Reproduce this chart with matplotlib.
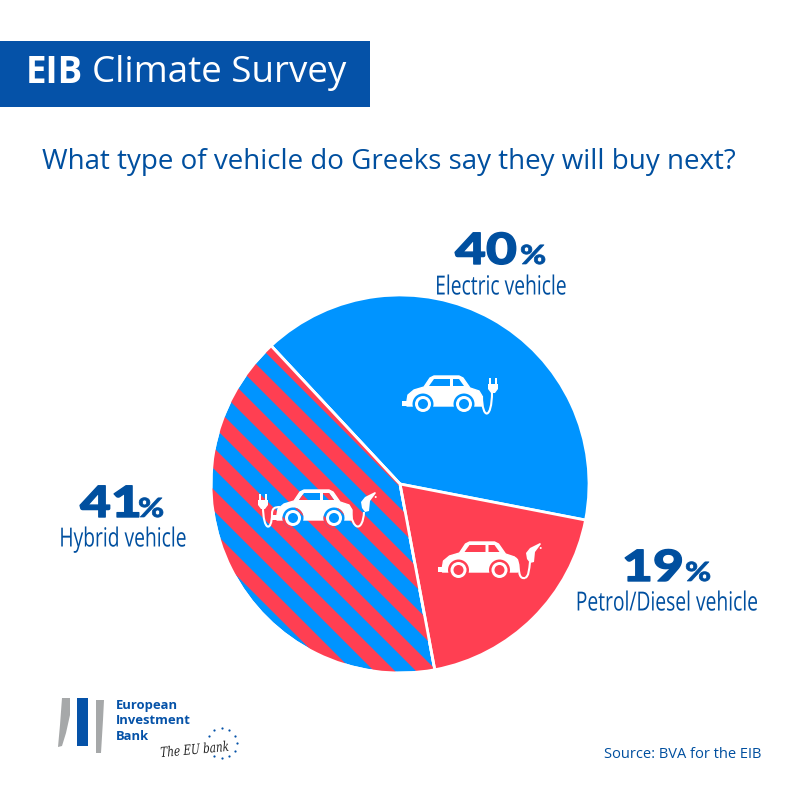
import matplotlib
matplotlib.use("Agg")
import matplotlib.pyplot as plt
import numpy as np
import matplotlib.patheffects as pe
from matplotlib.patches import Circle, PathPatch, Polygon, Rectangle, Wedge
from matplotlib.path import Path
from matplotlib.transforms import Affine2D

BLUE = "#0094ff"
RED = "#ff3f52"
DARK = "#004f9f"
HEADER = "#0552a8"
GREY = "#a6a8a9"

labels = ["Electric vehicle", "Hybrid vehicle", "Petrol/Diesel vehicle"]
shares = [40, 41, 19]
title = "What type of vehicle do Greeks say they will buy next?"
source = "Source: BVA for the EIB"
logo_lines = ["European", "Investment", "Bank"]

plt.rcParams["font.family"] = ["Open Sans", "DejaVu Sans"]

fig = plt.figure(figsize=(8, 8), dpi=100)
ax = fig.add_axes([0, 0, 1, 1])


class ScaleX(pe.AbstractPathEffect):
    # the fonts here have no condensed/extra wide cut, so stretch the glyphs instead
    def __init__(self, sx, x0, stroke=0.0):
        super().__init__()
        self.sx, self.x0, self.stroke = sx, x0, stroke

    def draw_path(self, renderer, gc, tpath, affine, rgbFace=None):
        gc0 = renderer.new_gc()
        gc0.copy_properties(gc)
        if self.stroke:
            gc0.set_linewidth(self.stroke)
            gc0.set_foreground(rgbFace)
        new = affine + Affine2D().translate(-self.x0, 0).scale(self.sx, 1).translate(self.x0, 0)
        renderer.draw_path(gc0, tpath, new, rgbFace)
        gc0.restore()


def py(y):
    # picture coordinates have y going down
    return 800 - y


def stripe_fill(clip, zorder):
    # blue/red diagonal stripes clipped to a patch
    period = 42
    slope = 1.0
    for k in range(-12, 12):
        y0 = 513 + k * period + (150 - 405) * slope
        y1 = 513 + k * period + (520 - 405) * slope
        band = Polygon([(150, py(y0)), (520, py(y1)), (520, py(y1 + period / 2)), (150, py(y0 + period / 2))],
                       closed=True, fc=RED, ec="none", zorder=zorder)
        ax.add_patch(band)
        band.set_clip_path(clip)


def fill_patch(patch, color, zorder):
    if color is None:
        patch.set_facecolor(BLUE)
        patch.set_zorder(zorder)
        ax.add_patch(patch)
        stripe_fill(patch, zorder)
    else:
        patch.set_facecolor(color)
        patch.set_zorder(zorder)
        ax.add_patch(patch)


def draw_car(x, y, color):
    body = [(-35, 8), (-34, 2), (-28, -3), (-18, -6), (-12, -15), (-8, -17), (17, -17), (21, -15),
            (28, -5), (37, -2), (40, 3), (40, 13), (-35, 13)]
    ax.add_patch(Polygon([(x + a, py(y + b)) for a, b in body], closed=True, fc="white", ec="white",
                         lw=1, joinstyle="round", zorder=6))
    ax.add_patch(Rectangle((x - 40, py(y + 13)), 12, 5, fc="white", ec="none", zorder=6))
    front = [(-13, -7), (-8, -14), (8, -14), (8, -7)]
    rear = [(11, -14), (17, -14), (22, -7), (11, -7)]
    for w in (front, rear):
        fill_patch(Polygon([(x + a, py(y + b)) for a, b in w], closed=True, ec="none"), color, 7)
    for dx in (-19, 22):
        fill_patch(Circle((x + dx, py(y + 11)), 10.5, ec="none"), color, 7)
        ax.add_patch(Circle((x + dx, py(y + 11)), 8, fc="white", ec="none", zorder=9))
        fill_patch(Circle((x + dx, py(y + 11)), 5, ec="none"), color, 10)


def draw_cord(points, lw=1.5):
    verts = [(a, py(b)) for a, b in points]
    codes = [Path.MOVETO] + [Path.CURVE4] * (len(verts) - 1)
    ax.add_patch(PathPatch(Path(verts, codes), fc="none", ec="white", lw=lw, zorder=6))


def draw_plug(x, y):
    # x, y = top of the prongs
    ax.add_patch(Rectangle((x - 4, py(y + 7)), 2, 7, fc="white", ec="none", zorder=6))
    ax.add_patch(Rectangle((x + 2, py(y + 7)), 2, 7, fc="white", ec="none", zorder=6))
    body = [(-5, 6), (5, 6), (5, 11), (2, 15), (-2, 15), (-5, 11)]
    ax.add_patch(Polygon([(x + a, py(y + b)) for a, b in body], closed=True, fc="white", ec="none", zorder=6))


def draw_nozzle(x, y):
    pts = [(0, 0), (10, -5), (11, -4), (5, 4), (4, 14), (0, 15), (-3, 11), (-4, 5)]
    ax.add_patch(Polygon([(x + a, py(y + b)) for a, b in pts], closed=True, fc="white", ec="none", zorder=6))
    ax.add_patch(Circle((x + 10.7, py(y)), 1, fc="white", ec="none", zorder=6))


# pie
wedges, _ = ax.pie(shares, startangle=-11, counterclock=True, center=(400, py(484)), radius=189,
                   colors=[BLUE, BLUE, RED], wedgeprops={"ec": "white", "lw": 2}, frame=True)

# red stripes on the hybrid slice, white rim goes back on top of them
stripe_fill(wedges[1], 2)
ax.add_patch(Wedge((400, py(484)), 189, -11 + 144, -11 + 144 + 147.6, fc="none", ec="white", lw=2, zorder=3))

# cars
draw_car(442, 393, BLUE)
draw_cord([(482, 396), (482, 420), (492, 420), (492, 392)])
draw_plug(493, 378)

draw_car(312, 507, None)
draw_cord([(263, 506), (263, 532), (272, 532), (272, 514)])
draw_cord([(272, 514), (272, 508), (275, 507), (280, 507)])
draw_plug(263, 494)
draw_cord([(350, 508), (352, 532), (363, 532), (364, 512)])
draw_nozzle(365, 497)

draw_car(477.5, 559, RED)
draw_cord([(514, 558), (522, 558), (515, 580), (525, 578)])
draw_cord([(525, 578), (529, 576), (529, 570), (530, 562)])
draw_nozzle(530, 548)

# header
ax.add_patch(Rectangle((0, py(107)), 370, 66, fc=HEADER, ec="none"))
ax.text(26, py(73), "EIB", color="white", fontsize=26.5, fontweight="bold", va="center", ha="left")
ax.text(92, py(73), "Climate Survey", color="white", fontsize=26.5, va="center", ha="left")
ax.text(389, py(162), title, color=DARK, fontsize=20, va="center", ha="center")

# value labels: x of digits, x of %, baseline, x and y of the caption
label_x = [455, 80, 622]
pct_x = [520, 138, 685]
baseline = [264, 517, 581]
caption_x = [501, 123, 667]
caption_y = [288, 540, 604]
for i in range(3):
    t = ax.text(label_x[i], py(baseline[i]), str(shares[i]), color=DARK, fontsize=31, fontweight="black",
                family=["Lato"], ha="left", va="baseline")
    t.set_path_effects([ScaleX(1.24, label_x[i], stroke=1.0)])
    t = ax.text(pct_x[i], py(baseline[i]), "%", color=DARK, fontsize=19, fontweight="black",
                family=["Lato"], ha="left", va="baseline")
    t.set_path_effects([ScaleX(1.2, pct_x[i], stroke=0.5)])
    t = ax.text(caption_x[i], py(caption_y[i]), labels[i], color=DARK, fontsize=19, ha="center", va="center")
    t.set_path_effects([ScaleX(0.73, caption_x[i])])

ax.text(761, py(754), source, color=DARK, fontsize=10.5, ha="right", va="center")

# logo
ax.add_patch(Polygon([(62, py(698)), (70, py(698)), (70, py(715)), (66, py(733)), (62, py(746)), (58, py(747)),
                      (60, py(725))], closed=True, fc=GREY, ec="none"))
ax.add_patch(Rectangle((77, py(746)), 11, 48, fc=HEADER, ec="none"))
ax.add_patch(Polygon([(96, py(700)), (104, py(700)), (103, py(720)), (101, py(753)), (96, py(753))],
                     closed=True, fc=GREY, ec="none"))
for line, y in zip(logo_lines, [705, 721, 737]):
    ax.text(116, py(y), line, color=HEADER, fontsize=9.4, fontweight="bold", ha="left", va="center")
t = ax.text(160, py(750), "The EU bank", color="#222222", fontsize=10, style="italic", family=["DejaVu Serif"],
            ha="left", va="center", rotation=4)
t.set_path_effects([ScaleX(0.75, 160)])
star_angles = [0, 30, 60, 90, 120, 150, 240, 270, 300, 330]
for a in star_angles:
    ax.plot(221.7 + 15 * np.cos(np.radians(a)), py(743) + 15 * np.sin(np.radians(a)), "o", ms=1.6, mew=0,
            color=HEADER)

ax.set_xlim(0, 800)
ax.set_ylim(0, 800)
ax.set_aspect("auto")
ax.axis("off")

fig.savefig("out.png", dpi=100)
